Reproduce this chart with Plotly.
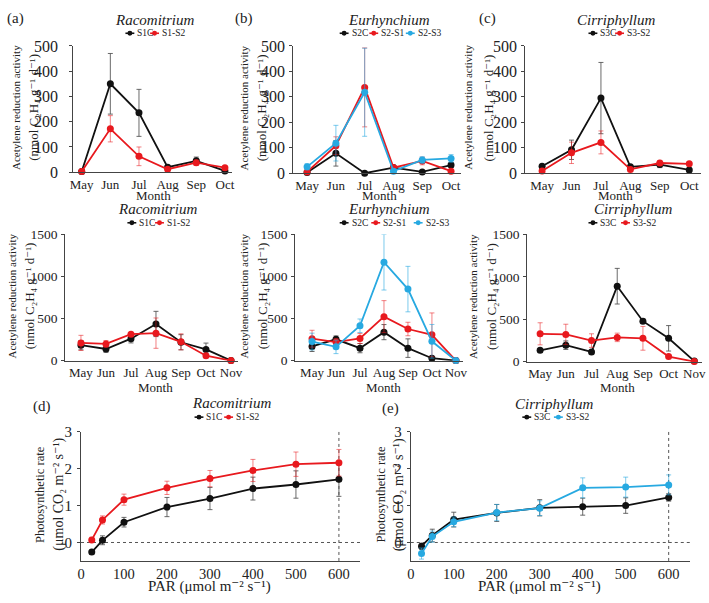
import plotly.graph_objects as go

W, H = 709, 603
FONT = "Liberation Serif, Times New Roman, DejaVu Serif, serif"
BLACK = "#111111"
RED = "#e8191e"
BLUE = "#27a9e1"
ERRC = {BLACK: "rgba(80,80,80,0.85)", RED: "rgba(232,25,30,0.55)", BLUE: "rgba(39,169,225,0.6)"}

# ---------------- data ----------------
months6 = ["May", "Jun", "Jul", "Aug", "Sep", "Oct"]
months7 = ["May", "Jun", "Jul", "Aug", "Sep", "Oct", "Nov"]

# (a) top - Racomitrium
a1_S1C = [3, 350, 235, 20, 45, 5]
a1_S1C_err = [3, 120, 93, 8, 15, 5]
a1_S1S2 = [3, 172, 63, 12, 38, 18]
a1_S1S2_err = [3, 52, 37, 6, 10, 6]

# (b) top - Eurhynchium
b1_S2C = [3, 78, 0, 22, 5, 32]
b1_S2C_err = [3, 50, 2, 5, 4, 10]
b1_S2S1 = [5, 108, 337, 22, 48, 8]
b1_S2S1_err = [4, 35, 155, 6, 15, 5]
b1_S2S3 = [25, 118, 318, 8, 52, 58]
b1_S2S3_err = [12, 70, 173, 5, 12, 15]

# (c) top - Cirriphyllum
c1_S3C = [27, 92, 295, 25, 34, 13]
c1_S3C_err = [6, 38, 140, 6, 12, 8]
c1_S3S2 = [9, 80, 121, 15, 40, 37]
c1_S3S2_err = [5, 42, 45, 5, 10, 6]

# (a) bottom - Racomitrium
a2_S1C = [185, 140, 262, 437, 220, 135, 2]
a2_S1C_err = [55, 40, 50, 150, 90, 75, 2]
a2_S1S2 = [212, 200, 316, 328, 225, 60, 2]
a2_S1S2_err = [90, 40, 20, 180, 95, 20, 2]

# (b) bottom - Eurhynchium
b2_S2C = [170, 255, 150, 340, 150, 30, 2]
b2_S2C_err = [60, 40, 55, 90, 110, 10, 2]
b2_S2S1 = [262, 222, 265, 524, 377, 308, 2]
b2_S2S1_err = [100, 40, 60, 190, 80, 260, 2]
b2_S2S3 = [228, 165, 416, 1170, 851, 231, 2]
b2_S2S3_err = [100, 80, 80, 330, 270, 200, 2]

# (c) bottom - Cirriphyllum
c2_S3C = [134, 195, 115, 890, 478, 276, 8]
c2_S3C_err = [20, 50, 20, 210, 25, 150, 5]
c2_S3S2 = [329, 322, 249, 287, 276, 61, 2]
c2_S3S2_err = [130, 120, 80, 50, 140, 15, 2]

# (d), (e) photosynthesis
PAR = [25, 50, 100, 200, 300, 400, 500, 600]
d_S1C = [-0.26, 0.06, 0.55, 0.96, 1.19, 1.46, 1.57, 1.71]
d_S1C_err = [0.05, 0.12, 0.13, 0.26, 0.30, 0.31, 0.37, 0.46]
d_S1S2 = [0.07, 0.61, 1.16, 1.48, 1.73, 1.95, 2.12, 2.16]
d_S1S2_err = [0.07, 0.11, 0.15, 0.18, 0.22, 0.30, 0.33, 0.36]
e_S3C = [-0.10, 0.19, 0.62, 0.80, 0.94, 0.97, 1.00, 1.22]
e_S3C_err = [0.08, 0.17, 0.20, 0.23, 0.22, 0.23, 0.21, 0.10]
e_S3S2 = [-0.30, 0.16, 0.56, 0.81, 0.93, 1.48, 1.50, 1.56]
e_S3S2_err = [0.15, 0.15, 0.13, 0.22, 0.20, 0.27, 0.27, 0.27]

# ---------------- helpers ----------------
def fx(px):
    return px / W

def fy(py):
    return 1 - py / H

ARA_L1 = "Acetylene reduction activity"
ARA_L2 = "(nmol C₂H₄ g⁻¹ d⁻¹)"
PS_L1 = "Photosynthetic rate"
PS_L2 = "(μmol CO₂ m⁻² s⁻¹)"
PAR_T = "PAR (μmol m⁻² s⁻¹)"

panels = [
    dict(xd=(70, 231), yd=(39, 169), xr=(-0.3, 5.25), yr=(0, 500), cats=months6,
         ytv=[0, 100, 200, 300, 400, 500], yfs=16, xfs=13, ystand=8,
         series=[(a1_S1C, a1_S1C_err, BLACK), (a1_S1S2, a1_S1S2_err, RED)],
         title="Racomitrium", tx=152, ty=12, tag="(a)", tagx=12, tagy=11,
         leg=[(123, "S1C", BLACK), (148, "S1-S2", RED)], legy=26,
         yt=(ARA_L1, ARA_L2), ytx=(12, 29), xt="Month", xty=193, tfs=11, t2fs=13),
    dict(xd=(293, 463), yd=(39, 170), xr=(-0.48, 5.35), yr=(0, 500), cats=months6,
         ytv=[0, 100, 200, 300, 400, 500], yfs=16, xfs=13, ystand=1,
         series=[(b1_S2C, b1_S2C_err, BLACK), (b1_S2S1, b1_S2S1_err, RED), (b1_S2S3, b1_S2S3_err, BLUE)],
         title="Eurhynchium", tx=390, ty=12, tag="(b)", tagx=243, tagy=11,
         leg=[(340, "S2C", BLACK), (370, "S2-S1", RED), (407, "S2-S3", BLUE)], legy=26,
         yt=(ARA_L1, ARA_L2), ytx=(243, 261), xt="Month", xty=193, tfs=11, t2fs=13),
    dict(xd=(528, 706), yd=(39, 170), xr=(-0.57, 5.4), yr=(0, 500), cats=months6,
         ytv=[0, 100, 200, 300, 400, 500], yfs=16, xfs=13, ystand=1,
         series=[(c1_S3C, c1_S3C_err, BLACK), (c1_S3S2, c1_S3S2_err, RED)],
         title="Cirriphyllum", tx=620, ty=12, tag="(c)", tagx=490, tagy=11,
         leg=[(592, "S3C", BLACK), (619, "S3-S2", RED)], legy=26,
         yt=(ARA_L1, ARA_L2), ytx=(470, 491), xt="Month", xty=193, tfs=11, t2fs=13),
    dict(xd=(62, 237), yd=(233, 363), xr=(-0.63, 6.28), yr=(0, 1500), cats=months7,
         ytv=[0, 500, 1000, 1500], yfs=13.5, xfs=13, ystand=1,
         series=[(a2_S1C, a2_S1C_err, BLACK), (a2_S1S2, a2_S1S2_err, RED)],
         title="Racomitrium", tx=155, ty=207, tag=None,
         leg=[(125, "S1C", BLACK), (153, "S1-S2", RED)], legy=221,
         yt=(ARA_L1, ARA_L2), ytx=(8, 26), xt="Month", xty=390, tfs=11, t2fs=13),
    dict(xd=(295, 465), yd=(233, 363), xr=(-0.7, 6.3), yr=(0, 1500), cats=months7,
         ytv=[0, 500, 1000, 1500], yfs=13.5, xfs=13, ystand=1,
         series=[(b2_S2C, b2_S2C_err, BLACK), (b2_S2S1, b2_S2S1_err, RED), (b2_S2S3, b2_S2S3_err, BLUE)],
         title="Eurhynchium", tx=390, ty=207, tag=None,
         leg=[(340, "S2C", BLACK), (372, "S2-S1", RED), (415, "S2-S3", BLUE)], legy=221,
         yt=(ARA_L1, ARA_L2), ytx=(243, 262), xt="Month", xty=390, tfs=11, t2fs=13),
    dict(xd=(530, 707), yd=(233, 364), xr=(-0.5, 6.3), yr=(0, 1500), cats=months7,
         ytv=[0, 500, 1000, 1500], yfs=13.5, xfs=13, ystand=1,
         series=[(c2_S3C, c2_S3C_err, BLACK), (c2_S3S2, c2_S3S2_err, RED)],
         title="Cirriphyllum", tx=638, ty=207, tag=None,
         leg=[(592, "S3C", BLACK), (625, "S3-S2", RED)], legy=221,
         yt=(ARA_L1, ARA_L2), ytx=(475, 493), xt="Month", xty=390, tfs=11, t2fs=13),
    dict(xd=(78, 361), yd=(436, 569), xr=(0, 650), yr=(-0.5, 3), cats=None,
         ytv=[0, 1, 2, 3], yfs=15, xfs=14.5, ystand=2,
         series=[(d_S1C, d_S1C_err, BLACK), (d_S1S2, d_S1S2_err, RED)],
         title="Racomitrium", tx=230, ty=406, tag="(d)", tagx=38, tagy=410,
         leg=[(193, "S1C", BLACK), (223, "S1-S2", RED)], legy=421,
         yt=(PS_L1, PS_L2), ytx=(37, 56), xt=PAR_T, xty=595, tfs=12.5, t2fs=14),
    dict(xd=(412, 695), yd=(436, 569), xr=(0, 650), yr=(-0.5, 3), cats=None,
         ytv=[0, 1, 2, 3], yfs=15, xfs=14.5, ystand=2,
         series=[(e_S3C, e_S3C_err, BLACK), (e_S3S2, e_S3S2_err, BLUE)],
         title="Cirriphyllum", tx=558, ty=407, tag="(e)", tagx=391, tagy=412,
         leg=[(525, "S3C", BLACK), (557, "S3-S2", BLUE)], legy=421,
         yt=(PS_L1, PS_L2), ytx=(382, 400), xt=PAR_T, xty=595, tfs=12.5, t2fs=14),
]

fig = go.Figure()
layout = dict(width=W, height=H, margin=dict(l=0, r=0, t=0, b=0),
              paper_bgcolor="white", plot_bgcolor="white", showlegend=False,
              font=dict(family=FONT, color="#222"))
annotations = []
shapes = []

for i, p in enumerate(panels, start=1):
    sfx = "" if i == 1 else str(i)
    xa, ya = "x" + sfx, "y" + sfx
    for yv, ev, col in p["series"]:
        xs = list(range(len(yv))) if p["cats"] is not None else PAR
        fig.add_trace(go.Scatter(
            x=xs, y=yv, xaxis=xa, yaxis=ya, mode="lines+markers",
            line=dict(color=col, width=1.8),
            marker=dict(color=col, size=7, symbol="circle"),
            error_y=dict(type="data", array=ev, color=ERRC[col], thickness=1, width=2.5),
            cliponaxis=False, hoverinfo="skip"))
    xaxis = dict(domain=[fx(p["xd"][0]), fx(p["xd"][1])], range=list(p["xr"]),
                 anchor=ya, showline=True, linecolor="#444", linewidth=1,
                 showgrid=False, zeroline=False, ticks="", tickangle=0,
                 tickfont=dict(family=FONT, size=p["xfs"], color="#222"))
    if p["cats"] is not None:
        xaxis.update(tickmode="array", tickvals=list(range(len(p["cats"]))), ticktext=p["cats"])
    else:
        xaxis.update(tickmode="array", tickvals=[0, 100, 200, 300, 400, 500, 600])
    yaxis = dict(domain=[fy(p["yd"][1]), fy(p["yd"][0])], range=list(p["yr"]),
                 anchor=xa, showline=True, linecolor="#444", linewidth=1,
                 showgrid=False, zeroline=False, ticks="outside", ticklen=3,
                 tickcolor="#444", tickmode="array", tickvals=p["ytv"],
                 ticklabelstandoff=p["ystand"],
                 tickfont=dict(family=FONT, size=p["yfs"], color="#222"))
    layout["xaxis" + sfx] = xaxis
    layout["yaxis" + sfx] = yaxis

    annotations.append(dict(text="<i>%s</i>" % p["title"], x=fx(p["tx"]), y=fy(p["ty"]),
                            xref="paper", yref="paper", showarrow=False,
                            xanchor="center", yanchor="middle",
                            font=dict(family=FONT, size=15, color="#222")))
    if p["tag"]:
        annotations.append(dict(text=p["tag"], x=fx(p["tagx"]), y=fy(p["tagy"]),
                                xref="paper", yref="paper", showarrow=False,
                                xanchor="center", yanchor="middle",
                                font=dict(family=FONT, size=15, color="#222")))
    ymid = (p["yd"][0] + p["yd"][1]) / 2 - 2
    for txt, xp, fs in zip(p["yt"], p["ytx"], (p["tfs"], p["t2fs"])):
        annotations.append(dict(text=txt, x=fx(xp), y=fy(ymid), xref="paper", yref="paper",
                                showarrow=False, textangle=-90, xanchor="center", yanchor="middle",
                                font=dict(family=FONT, size=fs, color="#222")))
    x0r, x1r = p["xr"]
    c = (len(p["cats"]) - 1) / 2 if p["cats"] is not None else 300
    xmid = p["xd"][0] + (c - x0r) / (x1r - x0r) * (p["xd"][1] - p["xd"][0])
    annotations.append(dict(text=p["xt"], x=fx(xmid), y=fy(p["xty"]), xref="paper", yref="paper",
                            showarrow=False, xanchor="center", yanchor="middle",
                            font=dict(family=FONT, size=p["xfs"] if p["cats"] is not None else 15, color="#222")))
    ly = p["legy"]
    for gx, lab, col in p["leg"]:
        shapes.append(dict(type="line", xref="paper", yref="paper",
                           x0=fx(gx), x1=fx(gx + 9), y0=fy(ly), y1=fy(ly),
                           line=dict(color=col, width=1.6)))
        shapes.append(dict(type="circle", xref="paper", yref="paper",
                           x0=fx(gx + 2), x1=fx(gx + 7), y0=fy(ly + 2.5), y1=fy(ly - 2.5),
                           fillcolor=col, line=dict(color=col, width=0)))
        annotations.append(dict(text=lab, x=fx(gx + 10), y=fy(ly), xref="paper", yref="paper",
                                showarrow=False, xanchor="left", yanchor="middle",
                                font=dict(family=FONT, size=9.5, color="#222")))
    if p["cats"] is None:
        shapes.append(dict(type="line", xref=xa + " domain", yref=ya, x0=0, x1=1, y0=0, y1=0,
                           line=dict(color="#555", width=1, dash="dot"), layer="below"))
        shapes.append(dict(type="line", xref=xa, yref=ya + " domain", x0=600, x1=600, y0=0, y1=1,
                           line=dict(color="#555", width=1, dash="dot"), layer="below"))

layout["annotations"] = annotations
layout["shapes"] = shapes
fig.update_layout(**layout)
fig.write_html("out.html")
